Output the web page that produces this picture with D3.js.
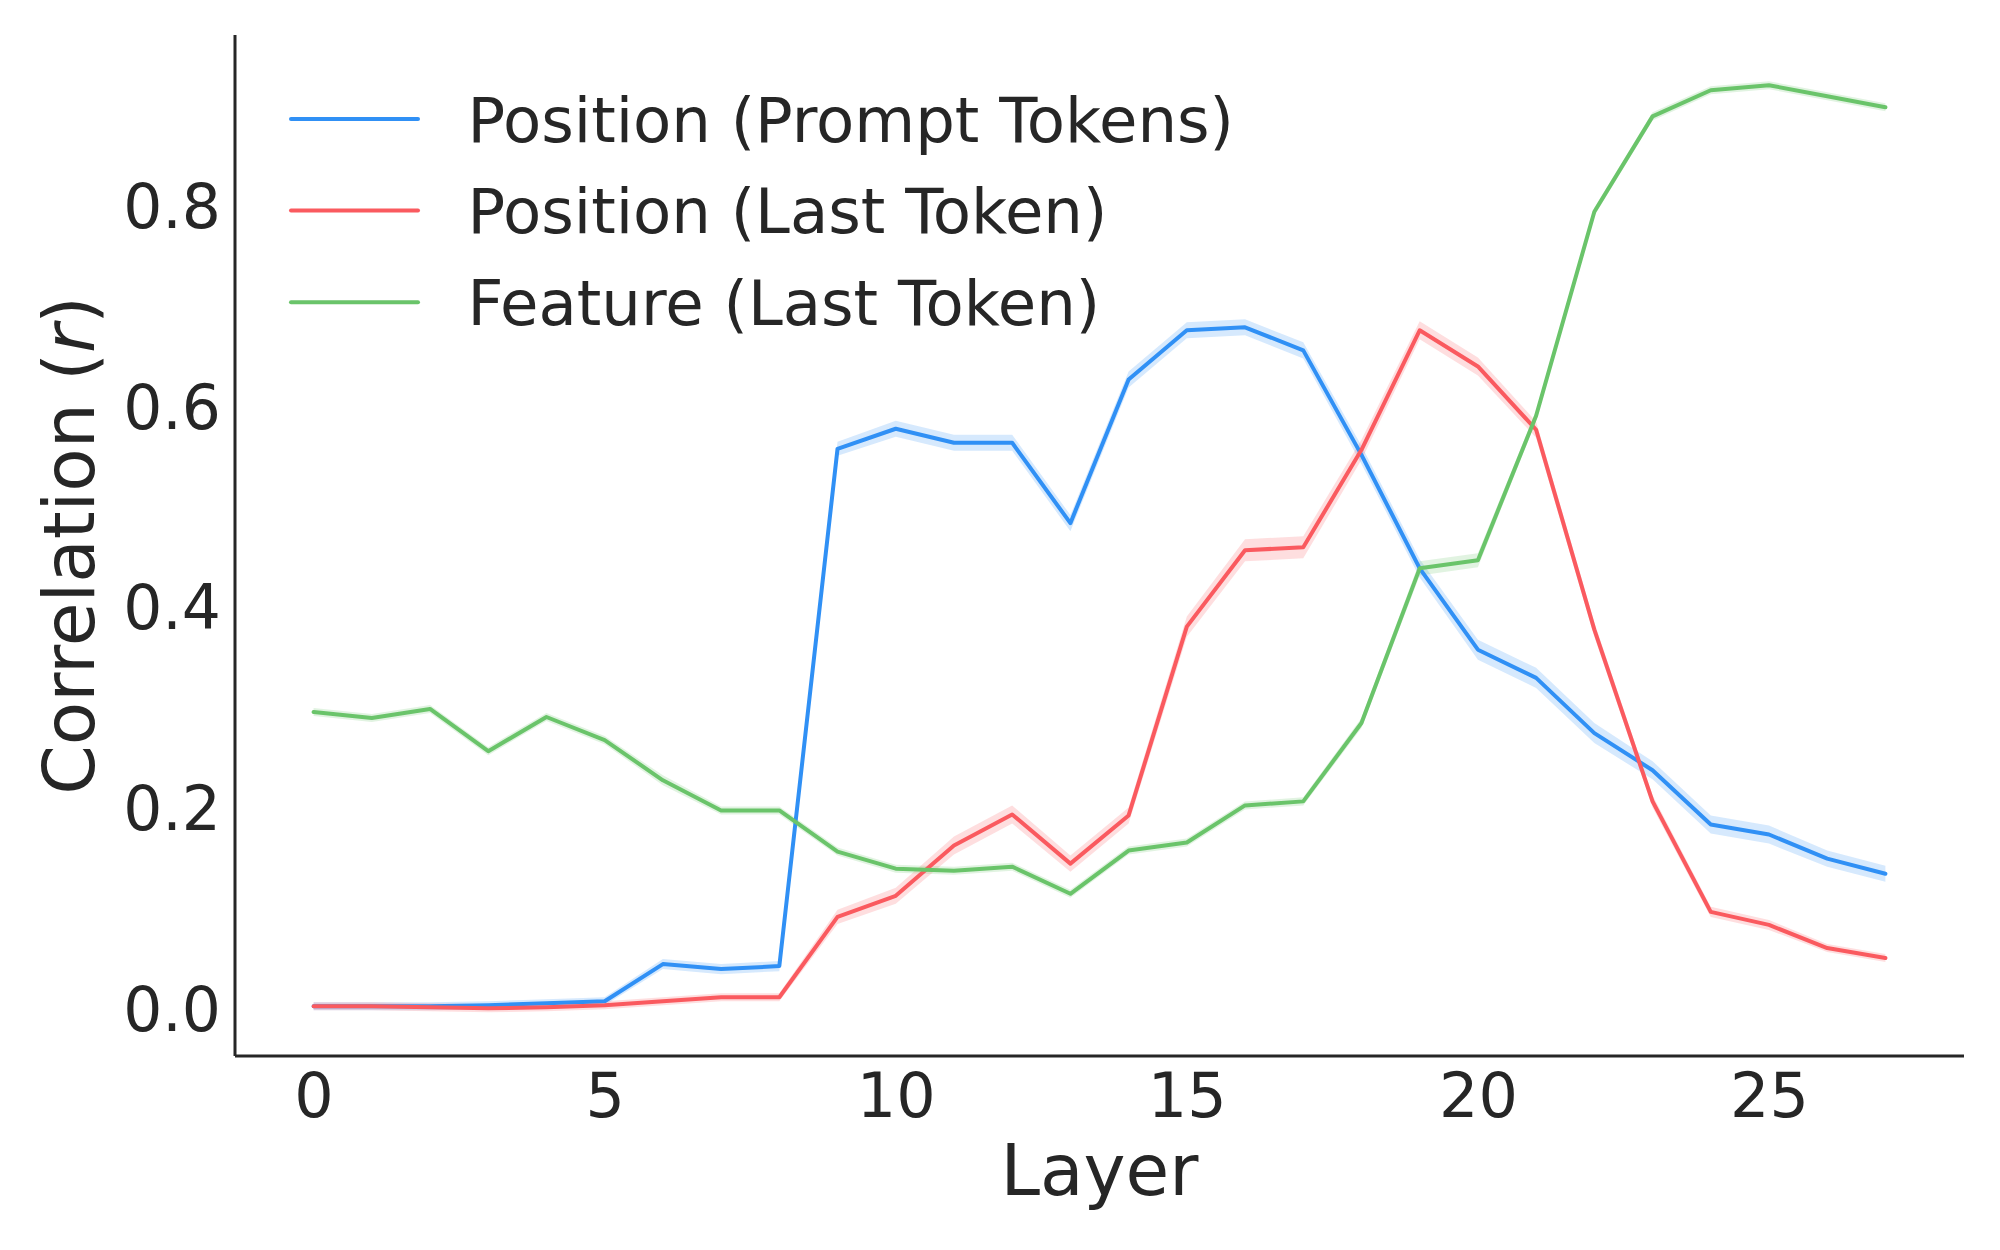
<!DOCTYPE html>
<html>
<head>
<meta charset="utf-8">
<script src="https://cdn.jsdelivr.net/npm/d3@7"></script>
<style>
  body { margin: 0; background: #fff; }
  text { font-family: "DejaVu Sans", sans-serif; fill: #262626; }
</style>
</head>
<body>
<div id="chart"></div>
<script>
// values (correlation r per layer)
const layers = d3.range(0, 28)

const promptPos = [0.002, 0.002, 0.002, 0.003, 0.005, 0.007, 0.044, 0.039, 0.042, 0.557,
  0.577, 0.563, 0.563, 0.483, 0.626, 0.675, 0.678, 0.655, 0.551, 0.438,
  0.357, 0.329, 0.274, 0.237, 0.183, 0.173, 0.149, 0.134]
const lastPos = [0.002, 0.002, 0.001, 0.000, 0.001, 0.003, 0.007, 0.011, 0.011, 0.091,
  0.112, 0.162, 0.193, 0.144, 0.192, 0.380, 0.456, 0.459, 0.556, 0.675,
  0.639, 0.576, 0.377, 0.206, 0.096, 0.083, 0.060, 0.050]
const lastFeat = [0.295, 0.289, 0.298, 0.256, 0.290, 0.267, 0.227, 0.197, 0.197, 0.156,
  0.139, 0.137, 0.141, 0.114, 0.157, 0.165, 0.202, 0.206, 0.284, 0.438,
  0.446, 0.590, 0.793, 0.888, 0.914, 0.919, 0.908, 0.897]

// half width of the shaded bands
const promptCi = [0.004, 0.004, 0.004, 0.004, 0.004, 0.004, 0.005, 0.005, 0.005, 0.007,
  0.008, 0.008, 0.008, 0.008, 0.008, 0.008, 0.008, 0.008, 0.009, 0.009,
  0.010, 0.010, 0.010, 0.009, 0.009, 0.009, 0.008, 0.008]
const lastPosCi = [0.004, 0.004, 0.004, 0.004, 0.004, 0.004, 0.004, 0.004, 0.004, 0.007,
  0.008, 0.009, 0.009, 0.008, 0.008, 0.010, 0.011, 0.011, 0.010, 0.009,
  0.009, 0.008, 0.007, 0.006, 0.005, 0.005, 0.004, 0.004]
const lastFeatCi = [0.004, 0.004, 0.004, 0.004, 0.004, 0.004, 0.005, 0.004, 0.004, 0.004,
  0.004, 0.004, 0.004, 0.004, 0.004, 0.004, 0.004, 0.004, 0.005, 0.007,
  0.007, 0.005, 0.004, 0.004, 0.004, 0.004, 0.004, 0.004]

const seriesNames = ["Position (Prompt Tokens)", "Position (Last Token)", "Feature (Last Token)"]
const seriesColors = ["#3090f5", "#fa5a5f", "#6ac46a"]

const xTicks = [0, 5, 10, 15, 20, 25]
const yTicks = [0.0, 0.2, 0.4, 0.6, 0.8]

const series = [
  { name: seriesNames[0], values: promptPos, ci: promptCi, color: seriesColors[0] },
  { name: seriesNames[1], values: lastPos, ci: lastPosCi, color: seriesColors[1] },
  { name: seriesNames[2], values: lastFeat, ci: lastFeatCi, color: seriesColors[2] },
]

const W = 2000, H = 1250
const margin = { top: 35, right: 36, bottom: 194, left: 235 }
const width = W - margin.left - margin.right,
  height = H - margin.top - margin.bottom

const svg = d3.select("#chart")
  .append("svg")
    .attr("width", W)
    .attr("height", H)

const g = svg.append("g")
  .attr("transform", "translate(" + margin.left + "," + margin.top + ")")

// matplotlib style 5% margins around the data
const x = d3.scaleLinear().domain([-1.35, 28.35]).range([0, width])
const y = d3.scaleLinear().domain([-0.0475, 0.969]).range([height, 0])

// bands first, then lines on top
const area = d3.area()
  .x((d, i) => x(layers[i]))
  .y0(d => y(d.v - d.c))
  .y1(d => y(d.v + d.c))

const line = d3.line()
  .x((d, i) => x(layers[i]))
  .y(d => y(d))

g.append("g").attr("id", "bands")
  .selectAll("path")
  .data(series)
  .enter()
  .append("path")
    .attr("d", s => area(s.values.map((v, i) => ({ v: v, c: s.ci[i] }))))
    .style("fill", s => s.color)
    .style("opacity", 0.2)

g.append("g").attr("id", "lines")
  .selectAll("path")
  .data(series)
  .enter()
  .append("path")
    .attr("d", s => line(s.values))
    .style("fill", "none")
    .style("stroke", s => s.color)
    .style("stroke-width", 4)
    .style("stroke-linejoin", "round")
    .style("stroke-linecap", "round")

// axes: no tick marks, just labels
const xAxis = g.append("g")
  .attr("transform", "translate(0," + height + ")")
  .call(d3.axisBottom(x).tickValues(xTicks).tickSize(0).tickPadding(0).tickFormat(d3.format("d")))
xAxis.select(".domain").remove()
xAxis.selectAll("text")
  .attr("y", 61)
  .attr("dy", null)
  .style("font-size", "62px")

const yAxis = g.append("g")
  .call(d3.axisLeft(y).tickValues(yTicks).tickSize(0).tickFormat(d3.format(".1f")))
yAxis.select(".domain").remove()
yAxis.selectAll("text")
  .attr("x", -14)
  .attr("dy", "0.365em")
  .style("font-size", "61.5px")

// spines (left + bottom)
g.append("line")
  .attr("x1", 0).attr("x2", 0).attr("y1", 0).attr("y2", height)
  .style("stroke", "#262626").style("stroke-width", 3)
g.append("line")
  .attr("x1", 0).attr("x2", width).attr("y1", height).attr("y2", height)
  .style("stroke", "#262626").style("stroke-width", 3)

// axis labels
svg.append("text")
  .attr("x", margin.left + width / 2)
  .attr("y", 1195)
  .attr("text-anchor", "middle")
  .style("font-size", "71px")
  .text("Layer")

const yl = svg.append("text")
  .attr("transform", "translate(94," + (margin.top + height / 2) + ") rotate(-90)")
  .attr("text-anchor", "middle")
  .style("font-size", "71px")
yl.append("tspan").text("Correlation (")
yl.append("tspan").style("font-style", "italic").text("r")
yl.append("tspan").text(")")

// legend, no frame
const legend = svg.append("g").attr("id", "legend")
const rows = legend.selectAll("g")
  .data(series)
  .enter()
  .append("g")
    .attr("transform", (d, i) => "translate(0," + (119 + i * 91.6) + ")")
rows.append("line")
  .attr("x1", 291).attr("x2", 418)
  .style("stroke", d => d.color)
  .style("stroke-width", 4)
  .style("stroke-linecap", "round")
rows.append("text")
  .attr("x", 467.5)
  .attr("y", 22.7)
  .style("font-size", "62.5px")
  .text(d => d.name)
</script>
</body>
</html>
